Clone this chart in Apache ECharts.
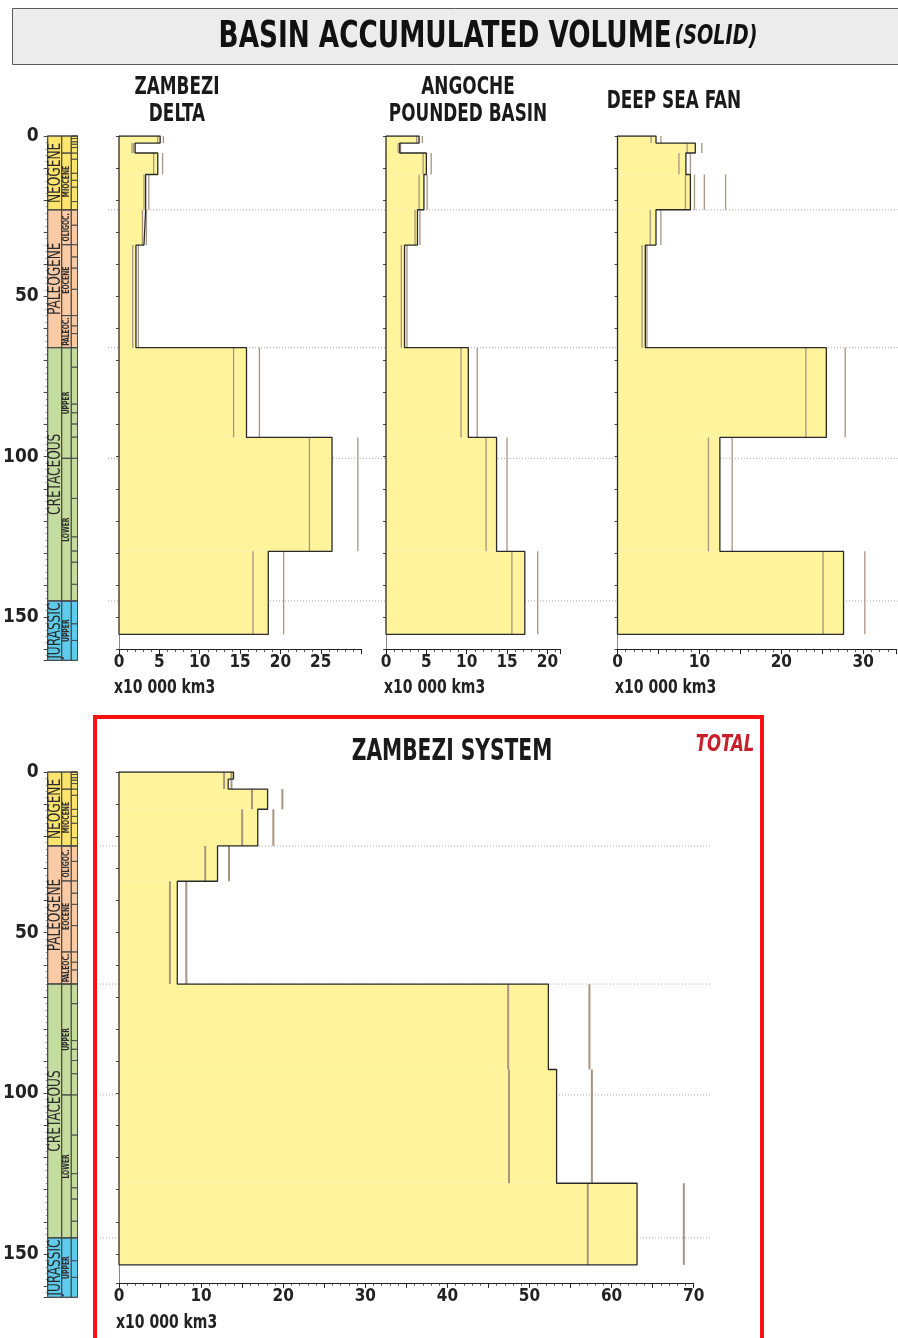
<!DOCTYPE html>
<html>
<head>
<meta charset="utf-8">
<title>Basin accumulated volume (solid)</title>
<script src="https://cdn.jsdelivr.net/npm/echarts@6/dist/echarts.min.js"></script>
<style>
  html, body { margin: 0; padding: 0; background: #fff; }
  #chart { width: 898px; height: 1338px; }
</style>
</head>
<body>
<div id="chart"></div>
<script>
// ---------------- data ----------------
// interval boundaries (Ma)
const panelAges  = [0, 2.2, 5.3, 12, 23, 34, 66, 94, 129.5, 155.4];
const systemAges = [0, 2.2, 5.3, 11.6, 23, 34, 66, 92.6, 128, 153.4];

// volumes x10 000 km3 : best estimate, low and high
const deltaVol  = [5.1, 2.0, 4.8, 3.3, 3.1, 2.1, 15.8, 26.4, 18.5];
const deltaLow  = [4.8, 1.6, 4.3, 3.1, 2.9, 1.7, 14.2, 23.6, 16.6];
const deltaHigh = [5.5, 1.8, 5.4, 3.7, 3.4, 2.4, 17.4, 29.6, 20.4];

const angocheVol  = [4.1, 1.7, 5.0, 4.7, 3.9, 2.3, 10.2, 13.7, 17.2];
const angocheLow  = [3.8, 1.5, 4.6, 4.1, 3.6, 1.9, 9.3, 12.4, 15.6];
const angocheHigh = [4.5, 1.8, 5.6, 5.1, 4.2, 2.6, 11.3, 15.0, 18.8];

const fanVol  = [4.7, 9.5, 8.35, 8.9, 4.7, 3.4, 25.5, 12.5, 27.6];
const fanLow  = [4.1, 8.5, 7.5, 8.3, 4.0, 3.0, 23.0, 11.1, 25.1];
const fanHigh = [5.3, 10.3, 8.9, 9.4, 5.3, 3.6, 27.8, 14.0, 30.2];
const fanExtra = [[3, 10.6], [3, 13.2]]; // [interval index, value]

const systemVol  = [13.95, 13.3, 18.1, 16.9, 12.0, 7.1, 52.3, 53.3, 63.1];
const systemLow  = [12.8, 12.8, 16.2, 15.0, 10.5, 6.2, 47.4, 47.5, 57.1];
const systemHigh = [13.7, 13.7, 19.9, 18.8, 13.4, 8.2, 57.3, 57.6, 68.8];

// stratigraphic column
const periodNames = ['NEOGENE', 'PALEOGENE', 'CRETACEOUS', 'JURASSIC'];
const periodAges  = [0, 23.03, 66, 145, 163.5];
const epochNames  = ['', 'MIOCENE', 'OLIGOC.', 'EOCENE', 'PALEOC.', 'UPPER', 'LOWER', 'UPPER'];
const epochAges   = [0, 5.33, 23.03, 33.9, 56, 66, 100.5, 145, 163.5];
const stageAges   = [0.0117, 0.126, 0.781, 1.8, 2.58, 3.6, 5.333, 7.246, 11.63, 13.82, 15.97, 20.44,
                     23.03, 27.82, 33.9, 37.71, 41.2, 47.8, 56, 59.2, 61.6, 66, 72.1, 83.6, 86.3,
                     89.8, 93.9, 100.5, 113, 125, 129.4, 132.9, 139.8, 145, 152.1, 157.3, 163.5];
const guideAges   = [23.03, 66, 100.5, 145]; // dotted lines

// ---------------- styles ----------------
const FONT = "'Liberation Sans Narrow', 'DejaVu Sans Condensed', 'Noto Sans', sans-serif";
const YELLOW = '#fff39c';
const RANGE = '#a79584';
const OUTLINE = '#2a2a2a';
const periodColors = { NEOGENE: '#fde46c', PALEOGENE: '#f8caa5', CRETACEOUS: '#c4dc9f', JURASSIC: '#5ecbeb' };
const COL_X = [0, 19, 32, 40.5]; // column edges inside the stratigraphic grid
const PX_TOP = 3.207, PX_BOT = 3.213;
const NARROW = 0.75; // horizontal squeeze to imitate a condensed face

// ---------------- helpers ----------------
function outlinePts(ages, vals) {
  const pts = [[0, ages[0]]];
  vals.forEach((v, i) => { pts.push([v, ages[i]], [v, ages[i + 1]]); });
  pts.push([0, ages[ages.length - 1]], [0, ages[0]]);
  return pts;
}

function fillSeries(idx, ages, vals) {
  return {
    type: 'custom', xAxisIndex: idx, yAxisIndex: idx, z: 2, silent: true,
    data: vals.map((v, i) => [v, ages[i], ages[i + 1]]),
    renderItem(params, api) {
      const a = api.coord([0, api.value(1)]);
      const b = api.coord([api.value(0), api.value(2)]);
      return { type: 'rect', shape: { x: a[0], y: a[1], width: b[0] - a[0], height: b[1] - a[1] },
               style: { fill: YELLOW } };
    }
  };
}

function rangeSeries(idx, ages, lows, highs, extra, width) {
  const rows = [];
  lows.forEach((v, i) => rows.push([v, ages[i], ages[i + 1]]));
  highs.forEach((v, i) => rows.push([v, ages[i], ages[i + 1]]));
  (extra || []).forEach(e => rows.push([e[1], ages[e[0]], ages[e[0] + 1]]));
  return {
    type: 'custom', xAxisIndex: idx, yAxisIndex: idx, z: 3, silent: true, data: rows,
    renderItem(params, api) {
      const a = api.coord([api.value(0), api.value(1)]);
      const b = api.coord([api.value(0), api.value(2)]);
      return { type: 'line', shape: { x1: a[0], y1: a[1], x2: b[0], y2: b[1] },
               style: { stroke: RANGE, lineWidth: width } };
    }
  };
}

function outlineSeries(idx, ages, vals) {
  return {
    type: 'line', xAxisIndex: idx, yAxisIndex: idx, z: 4, silent: true,
    data: outlinePts(ages, vals), symbol: 'none',
    lineStyle: { color: OUTLINE, width: 1.3 }
  };
}

function guideSeries(idx) {
  return guideAges.map(a => ({
    type: 'line', xAxisIndex: idx, yAxisIndex: idx, z: 1, silent: true, symbol: 'none',
    data: [[0, a], [1, a]],
    lineStyle: { color: '#a8a8a8', width: 1, type: [1, 2] }
  }));
}

function periodOf(age) {
  for (let i = 0; i < periodNames.length; i++) {
    if (age >= periodAges[i] && age < periodAges[i + 1]) return periodNames[i];
  }
  return periodNames[periodNames.length - 1];
}

function columnSeries(idx) {
  const periodRows = periodNames.map((n, i) => [0, periodAges[i], periodAges[i + 1], i]);
  const epochRows = epochNames.map((n, i) => [1, epochAges[i], epochAges[i + 1], i]);
  const stageRows = stageAges.map((a, i) => [2, i ? stageAges[i - 1] : 0, a, i]);
  const cell = (names, textSize, bold) => function (params, api) {
    const col = api.value(0);
    const top = api.value(1), base = api.value(2);
    const p0 = api.coord([COL_X[col], top]);
    const p1 = api.coord([COL_X[col + 1], base]);
    const name = names ? names[api.value(3)] : '';
    const kids = [];
    if (col === 0) {
      // period colour runs under all three columns
      const pr = api.coord([COL_X[3], base]);
      kids.push({ type: 'rect', shape: { x: p0[0], y: p0[1], width: pr[0] - p0[0], height: pr[1] - p0[1] },
                  style: { fill: periodColors[periodOf(top)], stroke: '#4a4a4a', lineWidth: 1 } });
    }
    kids.push({
      type: 'rect',
      shape: { x: p0[0], y: p0[1], width: p1[0] - p0[0], height: p1[1] - p0[1] },
      style: { fill: 'none', stroke: '#4a4a4a', lineWidth: col === 2 ? 0.8 : 1 }
    });
    if (name) {
      kids.push({
        type: 'text', x: (p0[0] + p1[0]) / 2 + 0.5, y: (p0[1] + p1[1]) / 2, rotation: Math.PI / 2,
        scaleX: NARROW,
        style: { text: name, fill: '#2a2a2a', align: 'center', verticalAlign: 'middle',
                 textAlign: 'center', textVerticalAlign: 'middle',
                 font: (bold ? 'bold ' : '') + textSize + 'px ' + FONT }
      });
    }
    return { type: 'group', children: kids };
  };
  return [
    { type: 'custom', xAxisIndex: idx, yAxisIndex: idx, z: 2, silent: true, data: periodRows,
      renderItem: cell(periodNames, 18, false) },
    { type: 'custom', xAxisIndex: idx, yAxisIndex: idx, z: 3, silent: true, data: epochRows,
      renderItem: cell(epochNames, 9, true) },
    { type: 'custom', xAxisIndex: idx, yAxisIndex: idx, z: 3, silent: true, data: stageRows,
      renderItem: cell(null, 0, false) }
  ];
}

// ---------------- axes ----------------
const labelStyle = { fontFamily: FONT, fontWeight: 'bold', fontSize: 17, color: '#222' };

function hiddenX(idx, max) { return { gridIndex: idx, type: 'value', min: 0, max: max, show: false }; }
function hiddenY(idx, max) { return { gridIndex: idx, type: 'value', min: 0, max: max, inverse: true, show: false }; }

function volumeX(idx, max, interval, every, showMax) {
  return {
    gridIndex: idx, type: 'value', min: 0, max: max, interval: interval,
    axisLine: { show: true, onZero: false, lineStyle: { color: '#222', width: 1.2 } },
    axisTick: { show: true, length: 5, lineStyle: { color: '#222', width: 1 } },
    minorTick: { show: true, splitNumber: 5, length: 3, lineStyle: { color: '#333', width: 0.8 } },
    splitLine: { show: false },
    axisLabel: Object.assign({ margin: 5, showMaxLabel: !!showMax,
      formatter: v => (v % every === 0 ? String(v) : '') }, labelStyle)
  };
}

function ageY(idx, max) {
  return {
    gridIndex: idx, type: 'value', min: 0, max: max, interval: 10, inverse: true,
    axisLine: { show: true, onZero: false, lineStyle: { color: '#888', width: 1 } },
    axisTick: { show: true, length: 3, lineStyle: { color: '#444', width: 1 } },
    axisLabel: { show: false }, splitLine: { show: false }
  };
}

function columnY(idx) {
  return {
    gridIndex: idx, type: 'value', min: 0, max: 163.5, interval: 10, inverse: true,
    axisLine: { show: true, onZero: false, lineStyle: { color: '#777', width: 1 } },
    axisTick: { show: true, length: 4, lineStyle: { color: '#444', width: 1 } },
    minorTick: { show: true, splitNumber: 5, length: 2, lineStyle: { color: '#777', width: 0.8 } },
    splitLine: { show: false },
    axisLabel: { margin: 9, showMaxLabel: false, fontFamily: FONT, fontWeight: 'bold', fontSize: 19,
                 color: '#222', formatter: v => (v % 50 === 0 ? String(v) : '') }
  };
}

// ---------------- option ----------------
const grids = [
  { left: 37, top: 136, width: 40.5, height: 163.5 * PX_TOP },        // 0 column top
  { left: 119, top: 136, width: 30 * 8.07, height: 160 * PX_TOP },     // 1 delta
  { left: 386, top: 136, width: 21.6 * 8.07, height: 160 * PX_TOP },   // 2 angoche
  { left: 617.5, top: 136, width: 34 * 8.19, height: 160 * PX_TOP },   // 3 fan
  { left: 108, top: 136, width: 790, height: 160 * PX_TOP },           // 4 guides top
  { left: 37, top: 772, width: 40.5, height: 163.5 * PX_BOT },        // 5 column bottom
  { left: 119, top: 772, width: 70 * 8.21, height: 159 * PX_BOT },     // 6 system
  { left: 100, top: 772, width: 612, height: 159 * PX_BOT }            // 7 guides bottom
];

const xAxes = [
  hiddenX(0, 40.5),
  volumeX(1, 30, 5, 5),
  volumeX(2, 21.6, 5, 5),
  volumeX(3, 34, 5, 10),
  hiddenX(4, 1),
  hiddenX(5, 40.5),
  volumeX(6, 70, 5, 10, true),
  hiddenX(7, 1)
];

const yAxes = [
  columnY(0),
  ageY(1, 160), ageY(2, 160), ageY(3, 160),
  hiddenY(4, 160),
  columnY(5),
  ageY(6, 159),
  hiddenY(7, 159)
];

const series = [].concat(
  columnSeries(0), columnSeries(5),
  guideSeries(4), guideSeries(7),
  fillSeries(1, panelAges, deltaVol),
  rangeSeries(1, panelAges, deltaLow, deltaHigh, null, 1.3),
  outlineSeries(1, panelAges, deltaVol),
  fillSeries(2, panelAges, angocheVol),
  rangeSeries(2, panelAges, angocheLow, angocheHigh, null, 1.3),
  outlineSeries(2, panelAges, angocheVol),
  fillSeries(3, panelAges, fanVol),
  rangeSeries(3, panelAges, fanLow, fanHigh, fanExtra, 1.3),
  outlineSeries(3, panelAges, fanVol),
  fillSeries(6, systemAges, systemVol),
  rangeSeries(6, systemAges, systemLow, systemHigh, null, 2),
  outlineSeries(6, systemAges, systemVol)
);

const headFont = size => 'bold ' + size + 'px ' + FONT;
const unitText = (x, y) => ({ type: 'text', x: x, y: y, scaleX: 0.82,
  style: { text: 'x10 000 km3', font: headFont(19), fill: '#222', align: 'left', verticalAlign: 'middle' } });
const centerText = (x, y, text, size) => ({ type: 'text', x: x, y: y, scaleX: NARROW,
  style: { text: text, font: headFont(size), fill: '#1a1a1a', align: 'center', verticalAlign: 'middle',
           lineHeight: 27 } });

const option = {
  animation: false,
  backgroundColor: '#fff',
  grid: grids,
  xAxis: xAxes,
  yAxis: yAxes,
  series: series,
  graphic: [
    { type: 'rect', z: -1, shape: { x: 12.5, y: 8.5, width: 890, height: 56 },
      style: { fill: '#ececec', stroke: '#5a5a5a', lineWidth: 1 } },
    { type: 'text', x: 488, y: 37, scaleX: 0.79,
      style: { text: '{a|BASIN ACCUMULATED VOLUME} {b|(SOLID)}', align: 'center', verticalAlign: 'middle',
               rich: { a: { font: headFont(37), fill: '#111' },
                       b: { font: 'italic bold 27px ' + FONT, fill: '#111' } } } },
    centerText(177, 101, 'ZAMBEZI\nDELTA', 25),
    centerText(468, 101, 'ANGOCHE\nPOUNDED BASIN', 25),
    centerText(674, 101, 'DEEP SEA FAN', 25),
    unitText(114, 688),
    unitText(615, 688),
    unitText(384, 688),
    unitText(116, 1323),
    { type: 'rect', shape: { x: 95, y: 717, width: 667, height: 640 },
      style: { fill: 'none', stroke: '#ff1010', lineWidth: 4 } },
    centerText(452, 752, 'ZAMBEZI SYSTEM', 30),
    { type: 'text', x: 725, y: 745, scaleX: 0.8,
      style: { text: 'TOTAL', font: 'italic bold 23px ' + FONT, fill: '#c8202a', align: 'center',
               verticalAlign: 'middle' } }
  ]
};

const chart = echarts.init(document.getElementById('chart'));
chart.setOption(option);
window.addEventListener('resize', () => chart.resize());
</script>
</body>
</html>
